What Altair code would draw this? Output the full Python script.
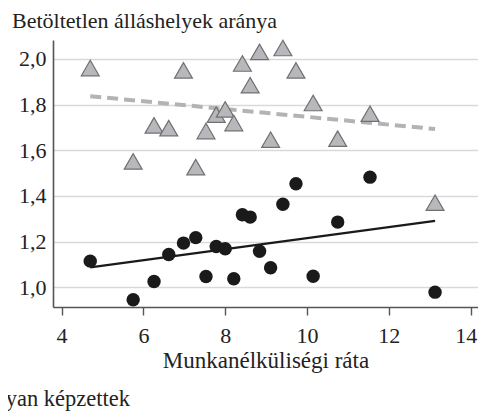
import altair as alt
import pandas as pd

# Unemployment rate (x) shared by both groups
unemployment = [4.70, 5.75, 6.26, 6.62, 6.98, 7.28, 7.53, 7.78, 8.00, 8.21,
                8.42, 8.61, 8.84, 9.11, 9.41, 9.73, 10.15, 10.75, 11.54, 13.13]
# circles (black)
low_skilled = [1.114, 0.945, 1.025, 1.143, 1.193, 1.217, 1.047, 1.178, 1.168, 1.037,
               1.317, 1.307, 1.157, 1.085, 1.363, 1.453, 1.048, 1.285, 1.482, 0.978]
# triangles (gray)
high_skilled = [1.960, 1.551, 1.709, 1.697, 1.950, 1.526, 1.684, 1.756, 1.779, 1.719,
                1.980, 1.885, 2.031, 1.646, 2.048, 1.950, 1.807, 1.651, 1.760, 1.370]
x_ticks = [4, 6, 8, 10, 12, 14]
y_ticks = [1.0, 1.2, 1.4, 1.6, 1.8, 2.0]
chart_title = "Betöltetlen álláshelyek aránya"
x_title = "Munkanélküliségi ráta"
bottom_note = "Alacsonyan képzettek"

FONT = "Liberation Serif"
TXT = "#222222"

df = pd.DataFrame({"x": unemployment, "low": low_skilled, "high": high_skilled})
base = alt.Chart(df)

xs = alt.Scale(domain=[3.79, 14.18], nice=False, zero=False)
ys = alt.Scale(domain=[0.913, 2.083], nice=False, zero=False)

x_axis = alt.Axis(values=x_ticks, format="d", grid=False, domainColor="#555555",
                  domainWidth=1.6, tickColor="#555555", tickWidth=1.4, tickSize=8,
                  labelFontSize=22, labelPadding=10, labelColor=TXT, labelFont=FONT,
                  labelFlush=8, labelFlushOffset=6,
                  title=x_title, titleFontSize=23, titleFontWeight="normal",
                  titleFont=FONT, titleColor=TXT, titlePadding=3)
y_axis = alt.Axis(values=y_ticks, grid=True, gridColor="#d9d9d9", gridWidth=1.5,
                  domainColor="#555555", domainWidth=1.6, ticks=False, tickSize=0,
                  labelExpr="replace(format(datum.value, '.1f'), '.', ',')",
                  labelFontSize=22, labelPadding=7, labelColor=TXT, labelFont=FONT,
                  title=None)

X = alt.X("x:Q", scale=xs, axis=x_axis)
Y_low = alt.Y("low:Q", scale=ys, axis=y_axis)
Y_high = alt.Y("high:Q", scale=ys, axis=y_axis)

line_high = base.transform_regression("x", "high").mark_line(
    color="#b3b3b3", strokeWidth=4, strokeDash=[11, 6]).encode(x=X, y=Y_high)
line_low = base.transform_regression("x", "low").mark_line(
    color="#1a1a1a", strokeWidth=2.2).encode(x=X, y=Y_low)

tri = base.mark_point(shape="triangle-up", size=320, filled=True, fill="#b8b8bc",
                      stroke="#707070", strokeWidth=1.2, opacity=1).encode(x=X, y=Y_high)
dots = base.mark_circle(size=180, color="#1a1a1a", opacity=1).encode(x=X, y=Y_low)

title_txt = alt.Chart(pd.DataFrame({"t": [chart_title]})).mark_text(
    align="left", baseline="alphabetic", font=FONT, fontSize=22, color=TXT
).encode(x=alt.value(-41), y=alt.value(-12), text="t:N")

note_txt = alt.Chart(pd.DataFrame({"t": [bottom_note]})).mark_text(
    align="right", baseline="alphabetic", font=FONT, fontSize=22.5, color=TXT
).encode(x=alt.value(77), y=alt.value(366), text="t:N")

chart = alt.layer(line_high, line_low, tri, dots, title_txt, note_txt).properties(
    width=425, height=267,
    autosize=alt.AutoSizeParams(type="none"),
    padding={"left": 45, "top": 32, "right": 0, "bottom": 104},
).configure_view(stroke=None).configure_axis(
    labelFont=FONT, titleFont=FONT
).configure_text(font=FONT)

chart.save("out.html", embed_options={"renderer": "svg", "actions": False})
